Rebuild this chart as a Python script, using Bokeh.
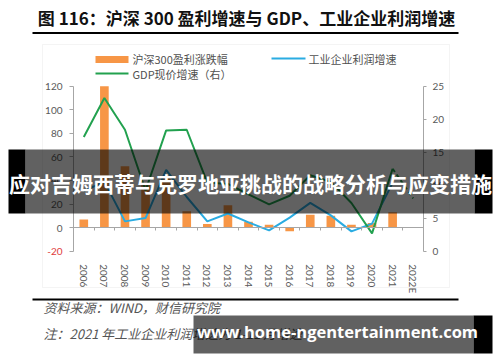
from bokeh.plotting import figure
from bokeh.models import (Range1d, LinearAxis, BoxAnnotation, Label, FixedTicker)
from bokeh.embed import file_html
from bokeh.resources import INLINE

# ---------------- data ----------------
years = ["2006", "2007", "2008", "2009", "2010", "2011", "2012", "2013", "2014",
         "2015", "2016", "2017", "2018", "2019", "2020", "2021", "2022E"]
csi300_growth = [7, 120, 52, 38, 42, 14, 3, 19, 5, 2.5, -3, 11, 10, 2.5, 4, 13, float("nan")]
industrial_profit_growth = [31, 39, 5.3, 8.1, 49, 26, 5.3, 12, 4.5, -2.3, 8.5, 21, 10.4, -3.2, 3.4, 38]
gdp_nominal_growth = [17.3, 23.2, 18.4, 9.2, 18.3, 18.4, 10.4, 10.2, 8.6, 7.1, 8.4, 11.5, 10.5, 7.3, 2.7, 12.5, 8.0]
left_ticks = [-20, 0, 20, 40, 60, 80, 100, 120]
right_ticks = [0, 5, 10, 15, 20, 25]

title_text = "图 116：沪深 300 盈利增速与 GDP、工业企业利润增速"
legend_labels = ["沪深300盈利涨跌幅", "工业企业利润增速", "GDP现价增速（右）"]
source_text = "资料来源：WIND，财信研究院"
note_text = "注：2021 年工业企业利润增速为 1-11 月增速"
banner_text = "应对吉姆西蒂与克罗地亚挑战的战略分析与应变措施"
watermark_text = "www.home-ngentertainment.com"

ORANGE = "#F79646"
BLUE = "#2AACE2"
GREEN = "#22A14F"
AXIS = "#A6A6A6"
LABEL = "#595959"
CJK = "Noto Sans CJK SC"

# ---------------- layout (pixels) ----------------
W, H = 500, 362
PL, PR = 73.0, 423.0        # plot area left / right
PT, PB = 85.7, 250.7        # plot area top / bottom
n = len(years)
xs = list(range(n))
upx = (PR - PL) / n                              # px per category
x_lo = -0.5 - PL / upx
x_hi = -0.5 + (W - PL) / upx
ly0, ly1 = left_ticks[0], left_ticks[-1]
lk = (PB - PT) / (ly1 - ly0)
y_lo = ly0 - (H - PB) / lk
y_hi = ly1 + PT / lk
ry0, ry1 = right_ticks[0], right_ticks[-1]
rk = (PB - PT) / (ry1 - ry0)
r_lo = ry0 - (H - PB) / rk
r_hi = ry1 + PT / rk

p = figure(width=W, height=H, x_range=Range1d(x_lo, x_hi), y_range=Range1d(y_lo, y_hi),
           output_backend="svg", toolbar_location=None,
           min_border=0, min_border_left=0, min_border_right=0,
           min_border_top=0, min_border_bottom=0, x_axis_type=None, y_axis_type=None)
p.extra_y_ranges = {"gdp": Range1d(r_lo, r_hi)}
p.outline_line_color = None
p.grid.visible = False
p.background_fill_color = "white"
p.border_fill_color = "white"


def sx(X):
    return X


def sy(Y):
    return H - Y


def box(X0, Y0, X1, Y1, color=None, alpha=1.0, line=None, level="annotation"):
    b = BoxAnnotation(left=sx(X0), right=sx(X1), top=sy(Y0), bottom=sy(Y1),
                      left_units="screen", right_units="screen",
                      top_units="screen", bottom_units="screen",
                      fill_color=color, fill_alpha=alpha if color else 0,
                      line_color=line, line_width=1, level=level)
    p.add_layout(b)
    return b


def label(X, Y, text, size, color="#404040", font=CJK, style="normal",
          align="left", level="annotation"):
    l = Label(x=sx(X), y=sy(Y), x_units="screen", y_units="screen", text=text,
              text_font=font, text_font_size=f"{size}px", text_font_style=style,
              text_color=color, text_align=align, text_baseline="middle", level=level)
    p.add_layout(l)
    return l


# chart box
box(42, 44, 449, 287, line="#D9D9D9")

# data
p.vbar(x=xs, top=csi300_growth, width=0.42, fill_color=ORANGE, line_color=None)
p.line(x=xs[:len(industrial_profit_growth)], y=industrial_profit_growth,
       line_color=BLUE, line_width=2)
p.line(x=xs[:-1], y=gdp_nominal_growth[:-1], y_range_name="gdp",
       line_color=GREEN, line_width=2)
p.line(x=xs[-2:], y=gdp_nominal_growth[-2:], y_range_name="gdp",
       line_color=GREEN, line_width=2, line_dash="4 3")


def style_axis(a):
    a.minor_tick_line_color = None
    a.major_label_text_font = "Lato"
    a.major_label_text_font_size = "10px"
    a.major_label_text_color = LABEL


# category labels (low position)
xa = LinearAxis(fixed_location=ly0, bounds=(-0.5, n - 0.5), ticker=FixedTicker(ticks=xs),
                major_label_overrides={i: y for i, y in enumerate(years)})
style_axis(xa)
xa.major_label_orientation = "vertical"
xa.axis_line_color = None
xa.major_tick_line_color = None
xa.major_label_standoff = 7
p.add_layout(xa, "below")

# zero line with ticks between categories
za = LinearAxis(fixed_location=0, bounds=(-0.5, n - 0.5),
                ticker=FixedTicker(ticks=[i + 0.5 for i in range(-1, n)]))
style_axis(za)
za.axis_line_color = AXIS
za.major_tick_line_color = AXIS
za.major_tick_out = 3
za.major_tick_in = 0
za.major_label_text_alpha = 0
p.add_layout(za, "below")

# left axis
ya = LinearAxis(fixed_location=-0.5, bounds=(ly0, ly1), ticker=FixedTicker(ticks=left_ticks),
                major_label_overrides={ly0: " "})
style_axis(ya)
ya.axis_line_color = AXIS
ya.major_tick_line_color = AXIS
ya.major_tick_out = 4
ya.major_tick_in = 0
ya.major_label_standoff = 7
p.add_layout(ya, "left")

# right axis
ra = LinearAxis(y_range_name="gdp", fixed_location=n - 0.5, bounds=(ry0, ry1),
                ticker=FixedTicker(ticks=right_ticks))
style_axis(ra)
ra.axis_line_color = AXIS
ra.major_tick_line_color = AXIS
ra.major_tick_out = 3
ra.major_tick_in = 0
ra.major_label_standoff = 6
p.add_layout(ra, "right")

# red -20 label
p.add_layout(Label(x=-0.5, y=ly0, x_offset=-11, text=str(ly0), text_font="Lato",
                   text_font_size="10px", text_color="#E03C3C", text_align="right",
                   text_baseline="middle"))

# legend
box(95, 55.5, 128, 62.5, color=ORANGE)
label(132, 58.5, legend_labels[0], 11, color="#505050")
box(271, 57, 305, 59, color=BLUE)
label(308, 58.5, legend_labels[1], 11, color="#505050")
box(95, 72, 128, 74, color=GREEN)
label(132, 73.5, legend_labels[2], 11, color="#505050")

# title and rules
label(246, 17, title_text, 17, color="#111111", style="bold", align="center")
box(32, 31.5, 458, 33.5, color="#000000")
box(32, 298, 458, 300, color="#000000")
label(43, 307, source_text, 13, color="#555555", style="italic")
label(43, 333, note_text, 13, color="#555555", style="italic")

# overlay banner
box(25, 149, 474, 213, color="#000000", alpha=0.62, level="overlay")
box(8, 149, 25, 213, color="#000000", level="overlay")
box(474, 149, 492, 213, color="#000000", level="overlay")
label(250, 182, banner_text, 21, color="white", style="bold", align="center", level="overlay")

# watermark
box(193, 315, 473, 353, color="#000000", alpha=0.62, level="overlay")
box(473, 315, 492, 353, color="#000000", level="overlay")
label(337, 331, watermark_text, 16.5, color="white", font="Open Sans", style="bold",
      align="center", level="overlay")

open("out.html", "w").write(file_html(p, INLINE))
